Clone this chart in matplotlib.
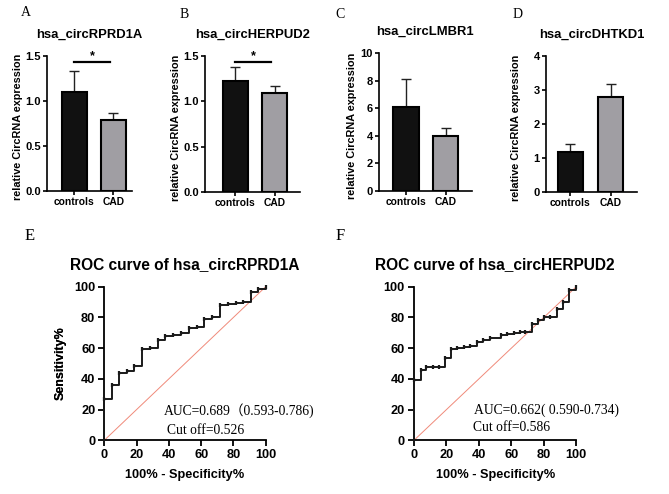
import numpy as np
import matplotlib.pyplot as plt

# figure size in pixels
W, H = 669, 494

# bar panels
groups = ['controls', 'CAD']
bar_titles = ['hsa_circRPRD1A', 'hsa_circHERPUD2', 'hsa_circLMBR1', 'hsa_circDHTKD1']
mean_rprd1a = [1.10, 0.78]
err_rprd1a = [0.23, 0.08]
mean_herpud2 = [1.225, 1.096]
err_herpud2 = [0.15, 0.077]
mean_lmbr1 = [6.07, 3.96]
err_lmbr1 = [2.06, 0.63]
mean_dhtkd1 = [1.18, 2.79]
err_dhtkd1 = [0.23, 0.37]
yticks_bar = [[0, 0.5, 1.0, 1.5], [0, 0.5, 1.0, 1.5], [0, 2, 4, 6, 8, 10], [0, 1, 2, 3, 4]]
ytick_fmt = ['{:.1f}', '{:.1f}', '{:d}', '{:d}']
signif = ['*', '*', None, None]

# ROC curves (100% - specificity, sensitivity)
fpr_rprd1a = [0, 0, 5.0, 9.3, 13.8, 18.6, 23.6, 28.3, 33.3, 37.8, 42.8, 47.5, 52.3,
              57.2, 61.8, 66.7, 71.5, 76.4, 81.6, 86.2, 90.7, 95.5, 100]
tpr_rprd1a = [0, 26.7, 35.8, 44.0, 45.0, 48.4, 59.2, 60.0, 65.3, 67.9, 68.5, 69.6, 72.9,
              74.0, 79.2, 80.0, 88.0, 88.7, 89.2, 90.0, 96.7, 98.3, 100]
fpr_herpud2 = [0, 0, 4.2, 7.6, 11.5, 15.4, 19.1, 22.8, 26.8, 30.8, 34.5, 38.6, 42.7, 46.8,
               53.4, 57.1, 61.6, 65.3, 68.4, 72.9, 76.2, 80.1, 83.8, 87.9, 92.0, 95.7, 100]
tpr_herpud2 = [0, 39.5, 45.8, 47.7, 47.7, 47.7, 53.3, 59.7, 60.3, 61.0, 61.7, 64.0, 65.5, 66.5,
               68.5, 69.2, 69.7, 70.3, 70.8, 76.0, 78.0, 80.0, 80.2, 85.8, 90.2, 97.8, 100]
roc_titles = ['ROC curve of hsa_circRPRD1A', 'ROC curve of hsa_circHERPUD2']
auc_text = ['AUC=0.689（0.593-0.786)', 'AUC=0.662( 0.590-0.734)']
cutoff_text = ['Cut off=0.526', 'Cut off=0.586']

SANS = 'Liberation Sans'
SERIF = ['Liberation Serif', 'Noto Sans CJK SC']


def rect(l, r, top, bottom):
    return [l / W, 1 - bottom / H, (r - l) / W, (bottom - top) / H]


fig = plt.figure(figsize=(W / 100, H / 100), dpi=100)

# pixel layout of the four bar panels: left, right, top, bottom, xlim, ylabel right edge
bar_layout = [
    (47, 131.7, 55.7, 190.7, (-0.705, 1.47), 23),
    (205, 300, 56, 192, (-0.78, 1.65), 181),
    (379, 471.7, 53.3, 190.7, (-0.68, 1.66), 357),
    (546, 636.7, 55.7, 191.7, (-0.61, 1.65), 521),
]
bar_means = [mean_rprd1a, mean_herpud2, mean_lmbr1, mean_dhtkd1]
bar_errs = [err_rprd1a, err_herpud2, err_lmbr1, err_dhtkd1]
letters_top = [('A', 21, 13), ('B', 180, 14), ('C', 335, 15), ('D', 513, 15)]

for i in range(4):
    l, r, t, b, xl, lab_x = bar_layout[i]
    ax = fig.add_axes(rect(l, r, t, b))
    x = np.arange(len(groups))
    ax.bar(x, bar_means[i], width=0.64, color=['#111111', '#a09ea3'],
           edgecolor='black', linewidth=1.5, zorder=2)
    ax.errorbar(x, bar_means[i], yerr=[[0, 0], bar_errs[i]], fmt='none',
                ecolor='#222222', elinewidth=1.0, capsize=3.6, capthick=1.0, zorder=1)
    ax.set_xlim(*xl)
    ax.set_ylim(yticks_bar[i][0], yticks_bar[i][-1])
    ax.set_yticks(yticks_bar[i])
    ax.set_yticklabels([ytick_fmt[i].format(v) for v in yticks_bar[i]],
                       fontsize=8, fontweight='bold', family=SANS)
    ax.set_xticks(x)
    ax.set_xticklabels(groups, fontsize=7.4, fontweight='bold', family=SANS)
    for s in ['top', 'right']:
        ax.spines[s].set_visible(False)
    for s in ['left', 'bottom']:
        ax.spines[s].set_linewidth(1.2)
    ax.tick_params(length=3, width=1.2, pad=1.5)
    ax.set_title(bar_titles[i], fontsize=9.4, fontweight='bold', family=SANS, pad=13)
    ax.set_ylabel('relative CircRNA expression', fontsize=7.8, fontweight='bold', family=SANS)
    ax.yaxis.set_label_coords((lab_x - l) / (r - l), 0.47)
    if signif[i]:
        top = yticks_bar[i][-1]
        ax.plot([0, 0.92], [0.955 * top, 0.955 * top], color='black', lw=1.6, clip_on=False)
        ax.text(0.45, 1.0 * top, signif[i], ha='center', va='center',
                fontsize=9, fontweight='bold', family=SANS)
    lt, lx, ly = letters_top[i]
    fig.text(lx / W, 1 - ly / H, lt, fontsize=10, family=SERIF, va='center', ha='left')

# ROC panels
roc_layout = [(104.3, 265.7, 286.7, 440.3), (414, 576.3, 286.7, 440.3)]
roc_fpr = [fpr_rprd1a, fpr_herpud2]
roc_tpr = [tpr_rprd1a, tpr_herpud2]
auc_pos = [(37, 19.3), (37, 19.3)]
cut_pos = [(38.6, 6.3), (36.5, 8.5)]
letters_roc = [('E', 25, 236), ('F', 336, 236)]

for i in range(2):
    l, r, t, b = roc_layout[i]
    ax = fig.add_axes(rect(l, r, t, b))
    ax.plot([0, 100], [0, 100], color='#f08a7a', lw=0.7, zorder=1)
    ax.plot(roc_fpr[i], roc_tpr[i], drawstyle='steps-post', color='#1a1a1a', lw=1.4,
            zorder=3, clip_on=False)
    ax.plot(roc_fpr[i][1:], roc_tpr[i][1:], ls='none', marker='|', ms=3.5, mew=1.6,
            color='#1a1a1a', zorder=4, clip_on=False)
    ax.set_xlim(0, 100)
    ax.set_ylim(0, 100)
    ticks = [0, 20, 40, 60, 80, 100]
    ax.set_xticks(ticks)
    ax.set_yticks(ticks)
    ax.set_xticklabels([str(v) for v in ticks], fontsize=9.2, fontweight='bold', family=SANS)
    ax.set_yticklabels([str(v) for v in ticks], fontsize=9.2, fontweight='bold', family=SANS)
    for s in ['top', 'right']:
        ax.spines[s].set_visible(False)
    for s in ['left', 'bottom']:
        ax.spines[s].set_linewidth(1.3)
    ax.tick_params(length=4, width=1.3, pad=2.5)
    ax.set_title(roc_titles[i], fontsize=11.2, fontweight='bold', family=SANS, pad=13)
    ax.set_xlabel('100% - Specificity%', fontsize=9.2, fontweight='bold', family=SANS)
    ax.set_ylabel('Sensitivity%', fontsize=9.0, fontweight='bold', family=SANS)
    ax.xaxis.set_label_coords(0.5, (b - 469) / (b - t))
    ax.yaxis.set_label_coords((67 - l) / (r - l), 0.5)
    ax.text(auc_pos[i][0], auc_pos[i][1], auc_text[i], fontsize=9.8, family=SERIF,
            va='center', ha='left')
    ax.text(cut_pos[i][0], cut_pos[i][1], cutoff_text[i], fontsize=9.8, family=SERIF,
            va='center', ha='left')
    lt, lx, ly = letters_roc[i]
    fig.text(lx / W, 1 - ly / H, lt, fontsize=12, family=SERIF, va='center', ha='left')

fig.savefig('out.png', dpi=100)
